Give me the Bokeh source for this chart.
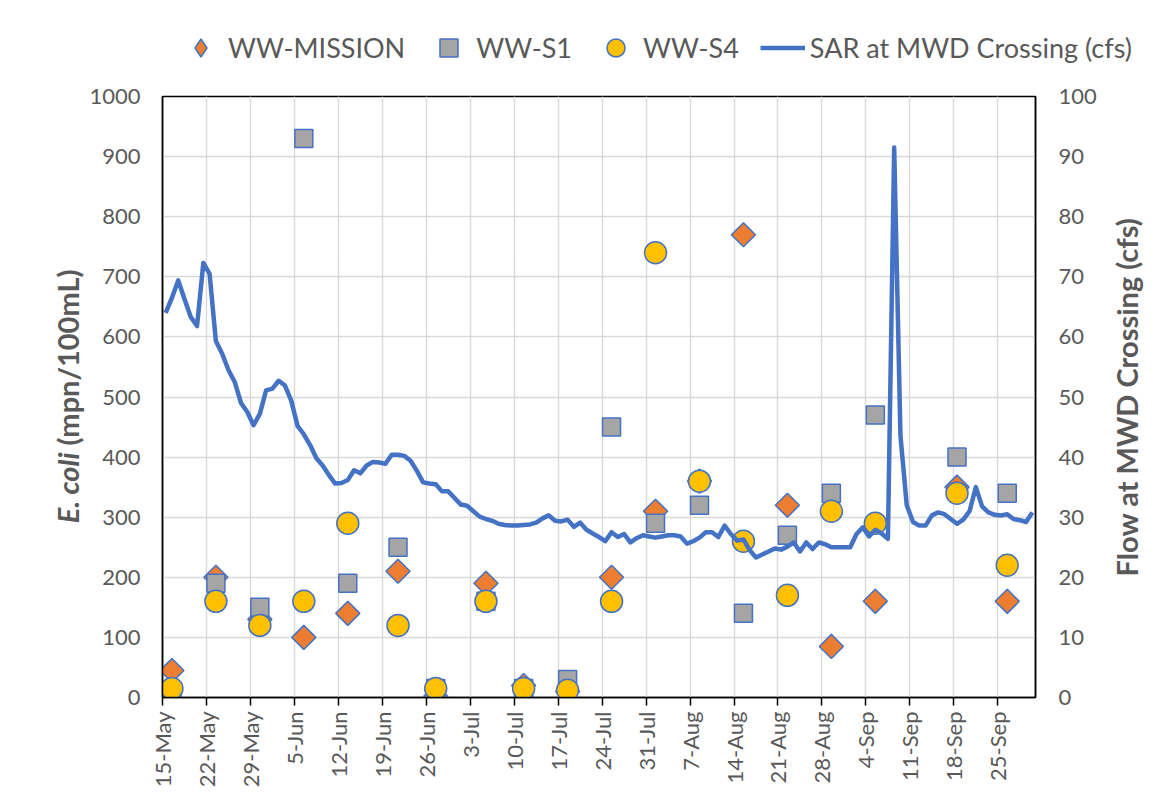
import math
import pandas as pd
from bokeh.plotting import figure
from bokeh.layouts import column, row
from bokeh.models import (Range1d, LinearAxis, FixedTicker, Legend, LegendItem,
                          ColumnDataSource)
from bokeh.core.properties import value
from bokeh.embed import file_html
from bokeh.resources import INLINE

# ---------------- data ----------------
tick_labels = ["15-May", "22-May", "29-May", "5-Jun", "12-Jun", "19-Jun", "26-Jun", "3-Jul",
               "10-Jul", "17-Jul", "24-Jul", "31-Jul", "7-Aug", "14-Aug", "21-Aug", "28-Aug",
               "4-Sep", "11-Sep", "18-Sep", "25-Sep"]

sample_dates = ["2023-05-16", "2023-05-23", "2023-05-30", "2023-06-06", "2023-06-13",
                "2023-06-21", "2023-06-27", "2023-07-05", "2023-07-11", "2023-07-18",
                "2023-07-25", "2023-08-01", "2023-08-08", "2023-08-15", "2023-08-22",
                "2023-08-29", "2023-09-05", "2023-09-18", "2023-09-26"]
ww_mission = [45, 200, 130, 100, 140, 210, 2, 190, 20, 10, 200, 310, 360, 770, 320, 85, 160, 350, 160]
ww_s1 = [5, 190, 150, 930, 190, 250, 15, 160, 15, 30, 450, 290, 320, 140, 270, 340, 470, 400, 340]
ww_s4 = [15, 160, 120, 160, 290, 120, 15, 160, 15, 12, 160, 740, 360, 260, 170, 310, 290, 340, 220]

flow_start = "2023-05-15"
flow_cfs = [64.0, 66.5, 69.4, 66.3, 63.3, 61.8, 72.3, 70.5, 59.3, 57.2,
            54.5, 52.5, 49.0, 47.5, 45.3, 47.2, 51.1, 51.4, 52.7, 51.9,
            49.4, 45.2, 43.8, 42.0, 39.8, 38.6, 37.0, 35.6, 35.7, 36.2,
            37.8, 37.3, 38.6, 39.2, 39.1, 38.9, 40.4, 40.4, 40.2, 39.4,
            37.7, 35.8, 35.6, 35.5, 34.3, 34.3, 33.2, 32.1, 31.9, 31.0,
            30.1, 29.7, 29.4, 28.9, 28.7, 28.6, 28.6, 28.7, 28.8, 29.1,
            29.8, 30.3, 29.4, 29.3, 29.6, 28.4, 29.1, 27.9, 27.3, 26.7,
            26.0, 27.5, 26.7, 27.2, 25.8, 26.5, 27.0, 26.8, 26.6, 26.8,
            27.0, 27.0, 26.8, 25.6, 26.0, 26.6, 27.5, 27.5, 26.7, 28.6,
            27.2, 26.1, 26.3, 24.5, 23.3, 23.8, 24.3, 24.8, 24.6, 25.1,
            25.8, 24.3, 25.8, 24.7, 25.8, 25.5, 25.0, 25.0, 25.0, 25.0,
            27.2, 28.3, 26.8, 27.9, 27.3, 26.4, 91.5, 43.5, 32.0, 29.2,
            28.6, 28.6, 30.3, 30.8, 30.5, 29.7, 28.9, 29.6, 31.0, 35.0,
            31.8, 30.8, 30.4, 30.3, 30.5, 29.7, 29.5, 29.2, 30.8]

series_names = ["WW-MISSION", "WW-S1", "WW-S4", "SAR at MWD Crossing (cfs)"]
left_title_parts = ["E. coli", "(mpn/100mL)"]
right_title = "Flow at MWD Crossing (cfs)"

# ---------------- conversion to day positions ----------------
origin = pd.Timestamp("2023-05-15")
sample_x = [(pd.Timestamp(d) - origin).days + 0.5 for d in sample_dates]
flow_dates = pd.date_range(flow_start, periods=len(flow_cfs), freq="D")
flow_x = [(d - origin).days + 0.5 for d in flow_dates]
tick_pos = [7 * i for i in range(len(tick_labels))]
x_end = (pd.Timestamp("2023-10-01") - origin).days

FONT = "Lato"
GREY_TXT = "#595959"
BLUE = "#4472C4"
ORANGE = "#ED7D31"
GREY = "#A5A5A5"
GOLD = "#FFC000"

# layout sizes (pixels)
TITLE_W = 86
LEFT_B, RIGHT_B, TOP_B, BOTTOM_B = 75, 68, 16, 99
FRAME_W, FRAME_H = 873, 601
MAIN_W = LEFT_B + FRAME_W + RIGHT_B
RTITLE_W = 60
TOTAL_W = TITLE_W + MAIN_W + RTITLE_W
LEG_H = 80
Y_MAX = 1000

# ---------------- main chart ----------------
p = figure(frame_width=FRAME_W, frame_height=FRAME_H,
           x_range=Range1d(0, x_end), y_range=Range1d(0, Y_MAX),
           output_backend="svg", toolbar_location=None,
           min_border_left=LEFT_B, min_border_right=RIGHT_B,
           min_border_top=TOP_B, min_border_bottom=BOTTOM_B,
           background_fill_color="white", border_fill_color="white")
p.extra_y_ranges = {"flow": Range1d(0, 100)}
p.outline_line_color = "black"
p.outline_line_width = 1.5

p.xgrid.ticker = FixedTicker(ticks=tick_pos)
p.ygrid.ticker = FixedTicker(ticks=list(range(0, Y_MAX + 1, 100)))
for g in (p.xgrid, p.ygrid):
    g.grid_line_color = "#d9d9d9"
    g.grid_line_width = 1.4

xa = p.xaxis[0]
xa.ticker = FixedTicker(ticks=tick_pos)
xa.major_label_overrides = {t: lab for t, lab in zip(tick_pos, tick_labels)}
xa.major_label_orientation = math.pi / 2
xa.major_tick_out = 8
xa.major_tick_in = 0
xa.minor_tick_line_color = None
xa.major_tick_line_color = "black"
xa.major_tick_line_width = 1.5
xa.axis_line_color = "black"
xa.axis_line_width = 1.5
xa.major_label_standoff = 6
xa.major_label_text_font = FONT
xa.major_label_text_font_size = "22px"
xa.major_label_text_color = GREY_TXT

ya = p.yaxis[0]
ya.ticker = FixedTicker(ticks=list(range(0, Y_MAX + 1, 100)))
ya.major_tick_line_color = None
ya.minor_tick_line_color = None
ya.major_tick_out = 0
ya.major_tick_in = 0
ya.axis_line_color = "black"
ya.axis_line_width = 1.5
ya.major_label_standoff = 22
ya.major_label_text_font = FONT
ya.major_label_text_font_size = "22px"
ya.major_label_text_color = GREY_TXT

ra = LinearAxis(y_range_name="flow", ticker=FixedTicker(ticks=list(range(0, 101, 10))))
ra.major_tick_line_color = None
ra.minor_tick_line_color = None
ra.major_tick_out = 0
ra.major_tick_in = 0
ra.axis_line_color = "black"
ra.axis_line_width = 1.5
ra.major_label_standoff = 23
ra.major_label_text_font = FONT
ra.major_label_text_font_size = "22px"
ra.major_label_text_color = GREY_TXT
p.add_layout(ra, "right")

src = ColumnDataSource(dict(x=sample_x, m=ww_mission, s1=ww_s1, s4=ww_s4))
p.scatter("x", "m", source=src, marker="square", angle=math.pi / 4, size=17,
          fill_color=ORANGE, line_color=BLUE, line_width=1.5)
p.scatter("x", "s1", source=src, marker="square", size=18,
          fill_color=GREY, line_color=BLUE, line_width=1.5)
p.scatter("x", "s4", source=src, marker="circle", size=22,
          fill_color=GOLD, line_color=BLUE, line_width=1.5)
p.line(flow_x, flow_cfs, y_range_name="flow", line_color=BLUE, line_width=4.5,
       line_join="round")


def strip(fw, fh, xr, yr, top=0, bottom=0):
    f = figure(frame_width=fw, frame_height=fh, x_range=Range1d(*xr), y_range=Range1d(*yr),
               output_backend="svg", toolbar_location=None, x_axis_type=None, y_axis_type=None,
               min_border_left=0, min_border_right=0, min_border_top=top, min_border_bottom=bottom,
               outline_line_color=None, background_fill_color="white",
               border_fill_color="white")
    f.grid.visible = False
    return f


# ---------------- legend strip ----------------
lf = strip(TOTAL_W, LEG_H, (0, 1), (0, 1))
# legend swatch renderers: a single point placed outside the strip's visible range
sw = ColumnDataSource(dict(x=[-5], y=[-5]))
lr_m = lf.scatter("x", "y", source=sw, marker="diamond", fill_color=ORANGE, line_color=BLUE, line_width=1.5)
lr_s1 = lf.scatter("x", "y", source=sw, marker="square", fill_color=GREY, line_color=BLUE, line_width=1.5)
lr_s4 = lf.scatter("x", "y", source=sw, marker="circle", fill_color=GOLD, line_color=BLUE, line_width=1.5)
lr_f = lf.line("x", "y", source=sw, line_color=BLUE, line_width=4.5)
legend = Legend(items=[LegendItem(label=n, renderers=[r]) for n, r in
                       zip(series_names, [lr_m, lr_s1, lr_s4, lr_f])],
                orientation="horizontal", location=(178, 10),
                glyph_width=45, glyph_height=45, label_standoff=5, spacing=21,
                padding=0, margin=0, border_line_color=None, background_fill_alpha=0,
                label_text_font=FONT, label_text_font_size="27px", label_text_color=GREY_TXT,
                label_height=45)
lf.add_layout(legend)

# ---------------- axis-title strips (same vertical frame as the chart) ----------------
px_per_unit = FRAME_H / Y_MAX


def y_at(page_offset_from_frame_top):
    return Y_MAX - page_offset_from_frame_top / px_per_unit


tf = strip(TITLE_W, FRAME_H, (0, TITLE_W), (0, Y_MAX), TOP_B, BOTTOM_B)
# split point between the italic and the upright part, measured down from the frame top
split_off = 356
tf.text(x=[67], y=[y_at(split_off)], text=[left_title_parts[0]], angle=math.pi / 2,
        text_align="right", text_baseline="middle", text_font=value(FONT),
        text_font_size="29px", text_font_style="bold italic", text_color=GREY_TXT)
tf.text(x=[67], y=[y_at(split_off - 7)], text=[left_title_parts[1]], angle=math.pi / 2,
        text_align="left", text_baseline="middle", text_font=value(FONT),
        text_font_size="29px", text_font_style="bold", text_color=GREY_TXT)

rf = strip(RTITLE_W, FRAME_H, (0, RTITLE_W), (0, Y_MAX), TOP_B, BOTTOM_B)
rf.text(x=[23], y=[Y_MAX / 2], text=[right_title], angle=math.pi / 2,
        text_align="center", text_baseline="middle", text_font=value(FONT),
        text_font_size="29px", text_font_style="bold", text_color=GREY_TXT)

layout = column(lf, row(tf, p, rf, spacing=0), spacing=0)
open("out.html", "w").write(file_html(layout, INLINE))
